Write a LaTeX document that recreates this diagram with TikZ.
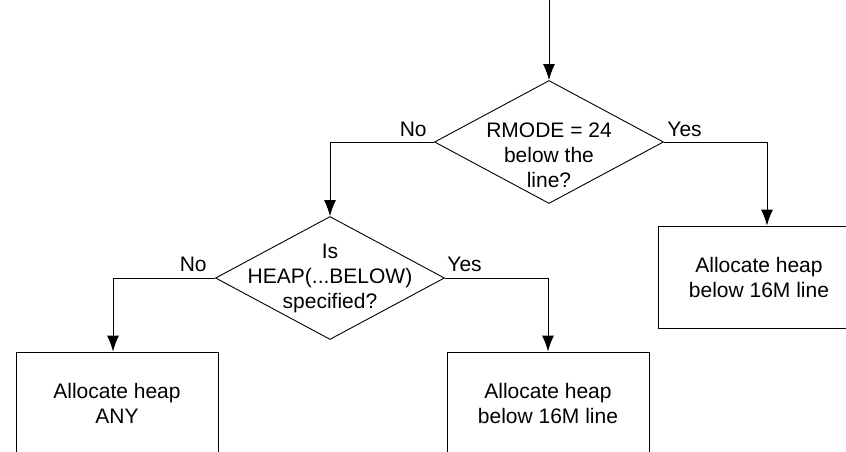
\documentclass[tikz,border=0pt]{standalone}
\usepackage{fontspec}
\setmainfont{Liberation Sans}
\usetikzlibrary{shapes,arrows.meta,positioning}
\tikzstyle{decision}=[draw, diamond, minimum width=229pt, minimum height=123pt, inner sep=0pt]
\tikzstyle{block}=[draw, rectangle, align=center, minimum width=202pt, minimum height=102pt]
\tikzstyle{txt}=[align=center, inner sep=0pt]
\tikzstyle{lbl}=[inner sep=0pt]
\tikzstyle{arr}=[->, >={Latex[length=16pt,width=12pt]}]
\begin{document}
\begin{tikzpicture}[x=1pt, y=-1pt, line width=0.9pt, font=\fontsize{21}{25}\selectfont]
\useasboundingbox (0,0) rectangle (846,452);
\clip (0,0) rectangle (846,452);

\coordinate (start) at (549,0);
\node[decision] (rmode) at (549,142) {};
\node[txt] (rmodetxt) at (549,155) {RMODE = 24\\below the\\line?};
\node[decision] (heap) at (330,278) {};
\node[txt] (heaptxt) at (330,278) {Is\\HEAP(...BELOW)\\specified?};
\node[block] (any) at (117,403) {Allocate heap\\ANY};
\node[block] (below) at (548,403) {Allocate heap\\below 16M line};
\node[block] (belowr) at (759,277) {Allocate heap\\below 16M line};

\draw[arr] (start) -- (rmode.north);
\draw[arr] (rmode.west) -| (heap.north);
\draw[arr] (rmode.east) -| ([xshift=8pt]belowr.north);
\draw[arr] (heap.west) -| ([xshift=-4pt]any.north);
\draw[arr] (heap.east) -| (below.north);

\node[lbl, above left=5pt and 7pt of rmode.west] (no1) {No};
\node[lbl, above right=5pt and 3pt of rmode.east] (yes1) {Yes};
\node[lbl, above left=6pt and 8pt of heap.west] (no2) {No};
\node[lbl, above right=6pt and 2pt of heap.east] (yes2) {Yes};
\end{tikzpicture}
\end{document}
